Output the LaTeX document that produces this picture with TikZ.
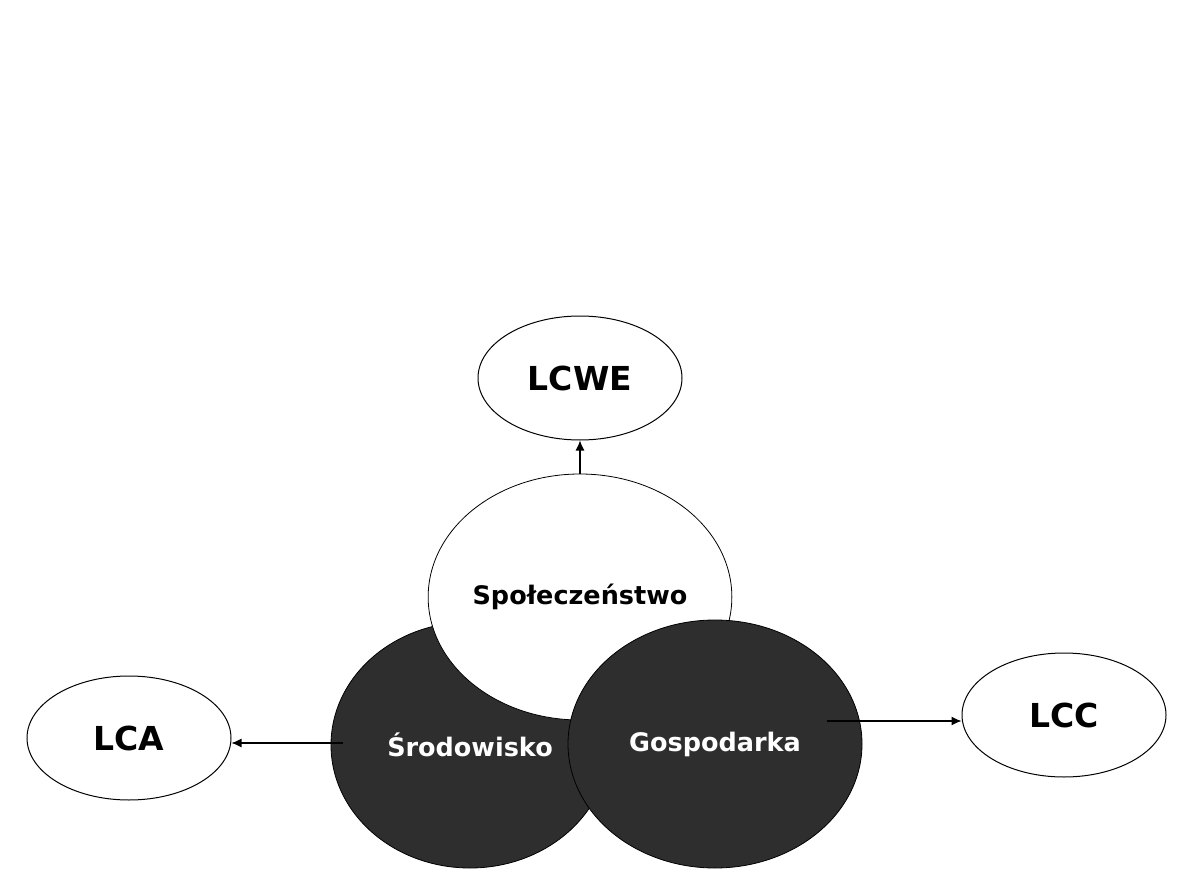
\documentclass[tikz,border=0pt]{standalone}
\usepackage{fontspec}
\setmainfont{DejaVu Sans}
\usetikzlibrary{shapes.geometric,arrows.meta}
\definecolor{darkfill}{HTML}{2E2E2E}
\tikzset{
  outbox/.style={ellipse, draw=black, line width=1pt, fill=white, inner sep=0pt,
    minimum width=204pt, minimum height=124pt, font=\fontsize{33}{36}\selectfont\bfseries},
  lightcirc/.style={ellipse, draw=black, line width=0.8pt, fill=white, inner sep=0pt,
    font=\fontsize{25.5}{28}\selectfont\bfseries, text=black},
  darkcirc/.style={ellipse, draw=black, line width=0.8pt, fill=darkfill, inner sep=0pt,
    font=\fontsize{25.5}{28}\selectfont\bfseries, text=white},
  conn/.style={line width=1.2pt, -{Latex[length=10pt,width=9pt]}}
}
\begin{document}
\begin{tikzpicture}[x=1pt,y=-1pt]
\useasboundingbox (0,0) rectangle (1191,893);
\node[outbox] (lcwe) at (580,378) {LCWE};
\node[outbox] (lca) at (129,738) {LCA};
\node[outbox] (lcc) at (1064,715) {LCC};
\node[darkcirc, minimum width=278pt, minimum height=246pt] (srod) at (470,745) {Środowisko};
\node[lightcirc, minimum width=294pt, minimum height=246pt] (spol) at (580,597) {Społeczeństwo};
\node[darkcirc, minimum width=294pt, minimum height=248pt] (gosp) at (715,744) {\raisebox{-3pt}{Gospodarka}};
\coordinate (s1) at (343,743);
\coordinate (s2) at (827,721);
\draw[conn] (spol.north) -- (lcwe.south);
\draw[conn] (s1) -- (s1 -| lca.east);
\draw[conn] (s2) -- (s2 -| lcc.west);
\end{tikzpicture}
\end{document}
